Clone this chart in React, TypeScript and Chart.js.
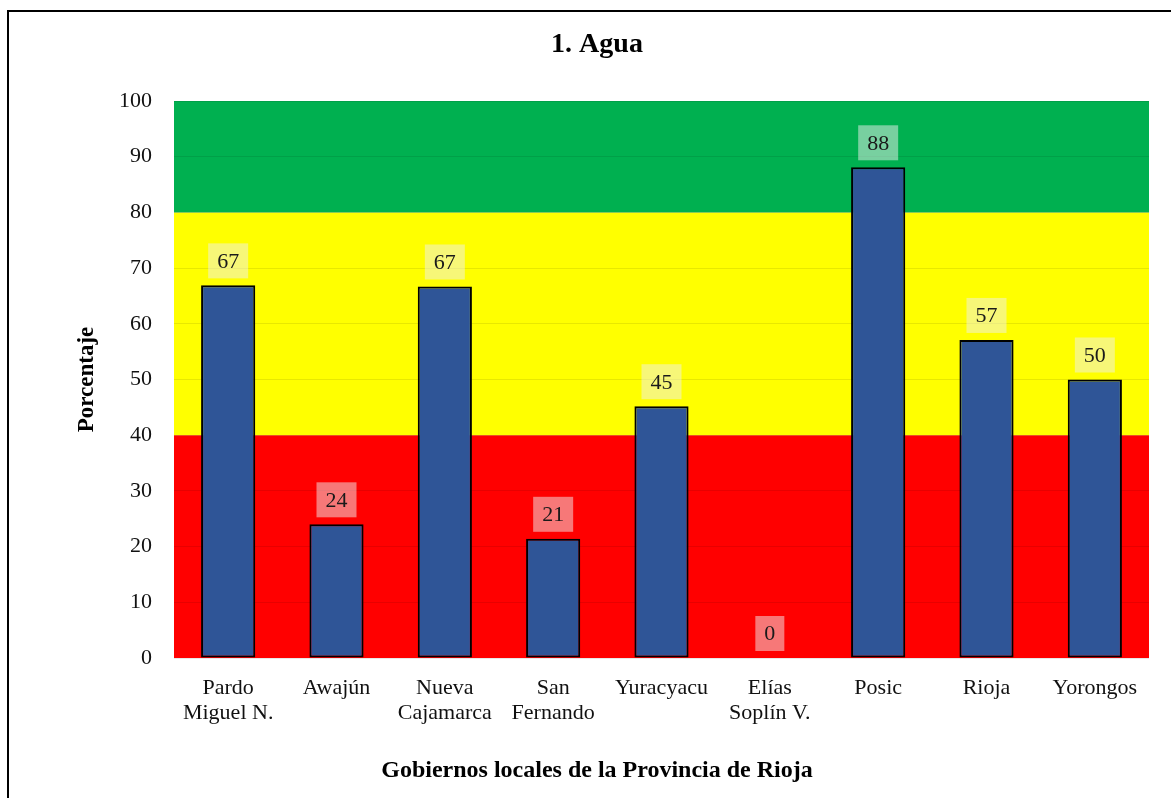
import React, { useEffect, useRef } from "react";
import { Chart, registerables } from "chart.js";

Chart.register(...registerables);

const categories: (string | string[])[] = [
  ["Pardo", "Miguel N."],
  "Awajún",
  ["Nueva", "Cajamarca"],
  ["San", "Fernando"],
  "Yuracyacu",
  ["Elías", "Soplín V."],
  "Posic",
  "Rioja",
  "Yorongos",
];
const values: number[] = [66.9, 24.0, 66.7, 21.4, 45.2, 0, 88.1, 57.1, 50.0];
const bands = [
  { from: 0, to: 40, color: "#FF0000" },
  { from: 40, to: 80, color: "#FFFF00" },
  { from: 80, to: 100, color: "#00B050" },
];
const titleText = "1. Agua";
const yTitle = "Porcentaje";
const xTitle = "Gobiernos locales de la Provincia de Rioja";

const FONT = "'Liberation Serif', 'Times New Roman', serif";

const bandsPlugin = {
  id: "bands",
  beforeDraw(chart: any) {
    const { ctx, chartArea, scales } = chart;
    const y = scales.y;
    ctx.save();
    for (const b of bands) {
      const top = y.getPixelForValue(b.to);
      const bottom = y.getPixelForValue(b.from);
      ctx.fillStyle = b.color;
      ctx.fillRect(chartArea.left, top, chartArea.right - chartArea.left, bottom - top);
    }
    ctx.restore();
  },
};

const labelPlugin = {
  id: "valueLabels",
  afterDatasetsDraw(chart: any) {
    const { ctx } = chart;
    const meta = chart.getDatasetMeta(0);
    ctx.save();
    ctx.font = `22px ${FONT}`;
    ctx.textAlign = "center";
    ctx.textBaseline = "middle";
    meta.data.forEach((bar: any, i: number) => {
      const txt = String(Math.round(values[i]));
      const w = ctx.measureText(txt).width + 18;
      const h = 35;
      const bottom = bar.y - 7;
      ctx.fillStyle = "rgba(240,240,240,0.5)";
      ctx.fillRect(bar.x - w / 2, bottom - h, w, h);
      ctx.fillStyle = "#1a1a1a";
      ctx.fillText(txt, bar.x, bottom - h / 2 + 1);
    });
    ctx.restore();
  },
};

export default function App() {
  const ref = useRef<HTMLCanvasElement | null>(null);
  useEffect(() => {
    if (!ref.current) return;
    const chart = new Chart(ref.current, {
      type: "bar",
      data: {
        labels: categories,
        datasets: [
          {
            data: values,
            backgroundColor: "#2F5597",
            borderColor: "#000000",
            borderWidth: (c: any) => (c.raw === 0 ? 0 : 2),
            borderSkipped: false,
            barPercentage: 1,
            categoryPercentage: 0.5,
          },
        ],
      },
      options: {
        animation: false,
        responsive: false,
        layout: { padding: { left: 36, right: 22, top: 0, bottom: 0 } },
        plugins: {
          legend: { display: false },
          tooltip: { enabled: false },
          title: {
            display: true,
            text: titleText,
            color: "#000",
            font: { family: FONT, size: 28, weight: "bold", lineHeight: 1.2 },
            padding: { top: 16, bottom: 39.4 },
          },
          subtitle: {
            display: true,
            position: "bottom",
            text: xTitle,
            color: "#000",
            font: { family: FONT, size: 24, weight: "bold", lineHeight: 1.2 },
            padding: { top: 0, bottom: 13 },
          },
        },
        scales: {
          x: {
            grid: { display: false, drawTicks: false },
            border: { display: false },
            ticks: {
              color: "#111",
              font: { family: FONT, size: 22, lineHeight: 1.14 },
              padding: 17.5,
              maxRotation: 0,
              autoSkip: false,
            },
            afterFit(scale: any) {
              scale.height = 140 - (24 * 1.2 + 13);
            },
          },
          y: {
            min: 0,
            max: 100,
            grid: { color: "rgba(0,0,0,0.09)", drawTicks: false, lineWidth: 1 },
            border: { display: false },
            ticks: {
              stepSize: 10,
              color: "#111",
              font: { family: FONT, size: 22 },
              padding: 22,
            },
            title: {
              display: true,
              text: yTitle,
              color: "#000",
              font: { family: FONT, size: 23, weight: "bold", lineHeight: 1.2 },
              padding: { top: 28, bottom: 0 },
            },
            afterFit(scale: any) {
              scale.width = 129;
            },
          },
        },
      },
      plugins: [bandsPlugin, labelPlugin],
    } as any);
    return () => chart.destroy();
  }, []);

  return (
    <div style={{ position: "fixed", inset: 0, overflow: "hidden", background: "#fff" }}>
      <div
        style={{
          position: "absolute",
          left: 7,
          top: 10,
          width: 1200,
          height: 820,
          border: "2px solid #000",
        }}
      >
        <canvas ref={ref} width={1162} height={786} style={{ display: "block" }} />
      </div>
    </div>
  );
}
